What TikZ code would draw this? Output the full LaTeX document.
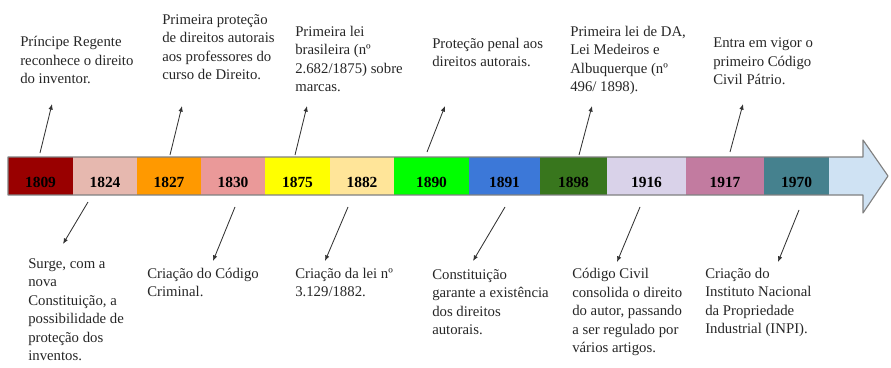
\documentclass[tikz,border=0pt]{standalone}
\usepackage{fontspec}
\setmainfont{Liberation Serif}
\usetikzlibrary{arrows.meta}

\definecolor{axis}{HTML}{CFE2F3}
\definecolor{c1809}{HTML}{990000}
\definecolor{c1824}{HTML}{E6B8AF}
\definecolor{c1827}{HTML}{FF9900}
\definecolor{c1830}{HTML}{EA9999}
\definecolor{c1875}{HTML}{FFFF00}
\definecolor{c1882}{HTML}{FFE599}
\definecolor{c1890}{HTML}{00FF00}
\definecolor{c1891}{HTML}{3C78D8}
\definecolor{c1898}{HTML}{38761D}
\definecolor{c1916}{HTML}{D9D2E9}
\definecolor{c1917}{HTML}{C27BA0}
\definecolor{c1970}{HTML}{45818E}

\begin{document}
\begin{tikzpicture}[x=0.025cm,y=-0.025cm,
  note/.style={anchor=base west,align=left,inner sep=0pt,text=black!85,
    font=\fontsize{10.5}{13.1}\selectfont},
  year/.style={inner sep=0pt,font=\fontsize{11}{13}\selectfont\bfseries},
  pointer/.style={-{Latex[length=4pt,width=3.2pt]},line width=0.6pt,black!80}]

\useasboundingbox (0,0) rectangle (891,367);

% the time axis
\fill[axis] (8,157) -- (863,157) -- (863,140) -- (888,176)
  -- (863,213) -- (863,195) -- (8,195) -- cycle;

\foreach \l/\r/\yr in {8/73/1809, 73/137/1824, 137/201/1827, 201/265/1830,
  265/330/1875, 330/394/1882, 394/469/1890, 469/540/1891, 540/607/1898,
  607/686/1916, 686/764/1917, 764/829/1970}
{
  \fill[c\yr] (\l,157) rectangle (\r,195);
  \node[year] (y\yr) at ({(\l+\r)/2},182) {\yr};
}

\draw[gray,line width=0.8pt,line join=round] (8,157) -- (863,157) -- (863,140)
  -- (888,176) -- (863,213) -- (863,195) -- (8,195) -- cycle;

% events above the axis (placed by the baseline of the last line)
\node[note] (n1809) at (20,83.5) {Príncipe Regente\\reconhece o direito\\do inventor.};
\node[note] (n1827) at (162,79.5) {Primeira proteção\\de direitos autorais\\aos professores do\\curso de Direito.};
\node[note] (n1875) at (295,91.5) {Primeira lei\\brasileira (nº\\2.682/1875) sobre\\marcas.};
\node[note] (n1890) at (432,66.5) {Proteção penal aos\\direitos autorais.};
\node[note] (n1898) at (570,91.5) {Primeira lei de DA,\\Lei Medeiros e\\Albuquerque (nº\\496/ 1898).};
\node[note] (n1917) at (713,84.5) {Entra em vigor o\\primeiro Código\\Civil Pátrio.};

% events below the axis
\node[note] (n1824) at (28,360.5) {Surge, com a\\nova\\Constituição, a\\possibilidade de\\proteção dos\\inventos.};
\node[note] (n1830) at (147,296.5) {Criação do Código\\Criminal.};
\node[note] (n1882) at (295,296.5) {Criação da lei nº\\3.129/1882.};
\node[note] (n1891) at (432,334.5) {Constituição\\garante a existência\\dos direitos\\autorais.};
\node[note] (n1916) at (572,352.5) {Código Civil\\consolida o direito\\do autor, passando\\a ser regulado por\\vários artigos.};
\node[note] (n1970) at (705,333.5) {Criação do\\Instituto Nacional\\da Propriedade\\Industrial (INPI).};

% pointers
\foreach \yr/\tx/\ty/\hx/\hy in {1809/40/153/52/104, 1827/170/155/182/106,
  1875/295/155/307/106, 1890/427/152/445/106, 1898/579/155/592/106,
  1917/730/152/743/104, 1824/88/202/63/244, 1830/235/207/213/261,
  1882/348/207/325/261, 1891/505/207/473/261, 1916/640/207/617/262,
  1970/799/210/778/262}
{
  \coordinate (t\yr) at (\tx,\ty);
  \coordinate (h\yr) at (\hx,\hy);
  \draw[pointer] (t\yr) -- (h\yr);
}

\end{tikzpicture}
\end{document}
